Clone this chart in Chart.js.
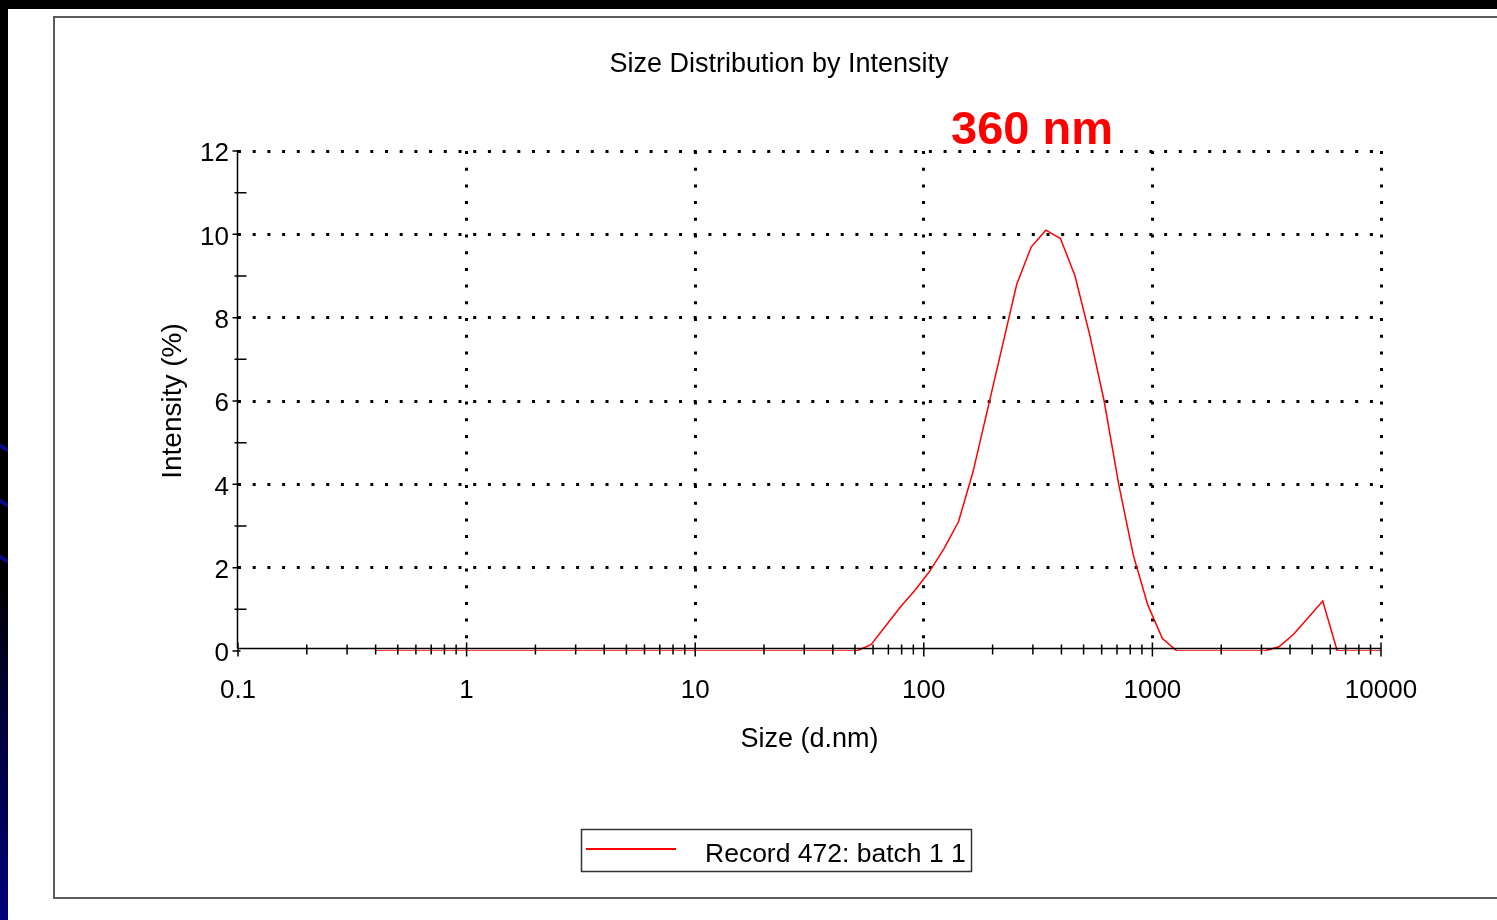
<!DOCTYPE html>
<html>
<head>
<meta charset="utf-8">
<title>Size Distribution by Intensity</title>
<script src="https://cdn.jsdelivr.net/npm/chart.js@4.4.1/dist/chart.umd.min.js"></script>
<style>
  html, body { margin: 0; padding: 0; background: #000; overflow: hidden; }
  #page { position: relative; width: 1497px; height: 920px; }
  #sheet { position: absolute; left: 8px; top: 9px; right: 0; bottom: 0; background: #fff; }
  #strip { position: absolute; left: 0; top: 0; width: 8px; height: 920px; overflow: hidden;
           background: linear-gradient(to bottom, #000 0%, #000 63%, #000034 76%, #00007a 100%); }
  .streak { position: absolute; left: -3px; width: 14px; height: 4px; background: #0a0a86;
            transform: rotate(28deg); filter: blur(0.6px); }
  #frame { position: absolute; left: 53px; top: 16px; width: 1460px; height: 883px;
           border: 2px solid #5c5c5c; box-sizing: border-box; }
  #chart { position: absolute; left: 0; top: 0; }
</style>
</head>
<body>
<div id="page">
  <div id="sheet"></div>
  <div id="strip">
    <div class="streak" style="top:446px"></div>
    <div class="streak" style="top:501px"></div>
    <div class="streak" style="top:557px"></div>
  </div>
  <div id="frame"></div>
  <canvas id="chart" width="1497" height="920"></canvas>
</div>
<script>
// Particle size classes (d.nm) of the size distribution
const sizes = [
  0.4000, 0.4632, 0.5365, 0.6213, 0.7195, 0.8332, 0.9649, 1.117, 1.294, 1.499,
  1.736, 2.010, 2.328, 2.696, 3.122, 3.615, 4.187, 4.849, 5.615, 6.503,
  7.531, 8.721, 10.10, 11.70, 13.54, 15.69, 18.17, 21.04, 24.36, 28.21,
  32.67, 37.84, 43.82, 50.75, 58.77, 68.06, 78.82, 91.28, 105.7, 122.4,
  141.8, 164.2, 190.1, 220.2, 255.0, 295.3, 342.0, 396.1, 458.7, 531.2,
  615.1, 712.4, 825.0, 955.4, 1106, 1281, 1484, 1718, 1990, 2305,
  2669, 3091, 3580, 4145, 4801, 5560, 6439, 7456, 8635, 10000
];

// Intensity (%) in each size class
const intensity = [
  0, 0, 0, 0, 0, 0, 0, 0, 0, 0,
  0, 0, 0, 0, 0, 0, 0, 0, 0, 0,
  0, 0, 0, 0, 0, 0, 0, 0, 0, 0,
  0, 0, 0, 0, 0.15, 0.6, 1.05, 1.45, 1.9, 2.45,
  3.1, 4.3, 5.8, 7.3, 8.8, 9.7, 10.1, 9.9, 9.0, 7.6,
  6.0, 4.0, 2.3, 1.1, 0.3, 0, 0, 0, 0, 0,
  0, 0, 0.1, 0.4, 0.8, 1.2, 0, 0, 0, 0
];

const seriesName = 'Record 472: batch 1 1';
const chartTitle = 'Size Distribution by Intensity';
const peakNote = '360 nm';

const xTickValues = [0.1, 1, 10, 100, 1000, 10000];
const xTickLabels = ['0.1', '1', '10', '100', '1000', '10000'];
const yTickValues = [0, 2, 4, 6, 8, 10, 12];
const yTickLabels = ['0', '2', '4', '6', '8', '10', '12'];

const FONT = "'Liberation Sans', Arial, Helvetica, sans-serif";
const INK = '#000';
const CLEAR = 'rgba(0,0,0,0)';

// Solid axes with crossing minor ticks, drawn over the dotted grid
const axesPlugin = {
  id: 'axesWithTicks',
  afterDatasetsDraw(chart) {
    const { ctx } = chart;
    const xs = chart.scales.x, ys = chart.scales.y;
    const axisY = ys.getPixelForValue(0) - 2.5;
    const axisX = xs.left - 0.5;
    ctx.save();
    ctx.strokeStyle = '#000';
    ctx.lineWidth = 1.5;
    ctx.beginPath();
    ctx.moveTo(xs.left, axisY); ctx.lineTo(xs.right, axisY);
    ctx.moveTo(axisX, ys.top - 1); ctx.lineTo(axisX, axisY);
    // x ticks: decades long, 2..9 short
    for (let d = 0; d < xTickValues.length; d++) {
      const dec = xTickValues[d];
      const px = xs.getPixelForValue(dec);
      ctx.moveTo(px, axisY - 6); ctx.lineTo(px, axisY + 8);
      if (d < xTickValues.length - 1) {
        for (let m = 2; m <= 9; m++) {
          const p = xs.getPixelForValue(dec * m);
          ctx.moveTo(p, axisY - 4); ctx.lineTo(p, axisY + 6);
        }
      }
    }
    // y ticks: labelled values short, odd values longer to the right
    for (let v = ys.min; v <= ys.max; v++) {
      const py = ys.getPixelForValue(v);
      if (v % 2 === 0) { ctx.moveTo(axisX - 5, py); ctx.lineTo(axisX + 3, py); }
      else { ctx.moveTo(axisX - 3, py); ctx.lineTo(axisX + 9, py); }
    }
    ctx.stroke();
    ctx.restore();
  },
  afterDraw(chart) {
    const { ctx } = chart;
    const ds = chart.data.datasets[0];
    ctx.save();
    // Chart heading
    ctx.fillStyle = INK;
    ctx.font = `27px ${FONT}`;
    ctx.textAlign = 'center';
    ctx.textBaseline = 'middle';
    ctx.fillText(chartTitle, 779, 65);
    // Peak annotation
    ctx.fillStyle = '#ff0000';
    ctx.font = `bold 47px ${FONT}`;
    ctx.fillText(peakNote, 1032, 131);
    // Legend box
    ctx.strokeStyle = '#333';
    ctx.lineWidth = 1.5;
    ctx.strokeRect(581.5, 829.5, 390, 42);
    ctx.strokeStyle = ds.borderColor;
    ctx.lineWidth = 2;
    ctx.beginPath();
    ctx.moveTo(586, 849); ctx.lineTo(676, 849);
    ctx.stroke();
    ctx.fillStyle = INK;
    ctx.font = `26.5px ${FONT}`;
    ctx.textAlign = 'left';
    ctx.fillText(ds.label, 705, 855);
    ctx.restore();
  }
};

new Chart(document.getElementById('chart'), {
  type: 'line',
  data: {
    datasets: [{
      label: seriesName,
      data: sizes.map((s, i) => ({ x: s, y: intensity[i] })),
      borderColor: '#ff0000',
      borderWidth: 1.5,
      pointRadius: 0,
      tension: 0,
      fill: false
    }]
  },
  options: {
    responsive: false,
    animation: false,
    devicePixelRatio: 1,
    layout: { padding: { left: 140, top: 151, right: 116, bottom: 159 } },
    plugins: {
      legend: { display: false },
      title: { display: false },
      tooltip: { enabled: false }
    },
    scales: {
      x: {
        type: 'logarithmic',
        min: 0.1,
        max: 10000,
        afterBuildTicks: s => { s.ticks = xTickValues.map(v => ({ value: v })); },
        afterFit: s => { s.height = 110; },
        ticks: {
          autoSkip: false,
          maxRotation: 0,
          padding: 24,
          color: INK,
          font: { family: FONT, size: 26 },
          callback: (v, i) => xTickLabels[i]
        },
        grid: {
          color: c => (c.index === 0 ? CLEAR : '#000'),
          lineWidth: 3,
          drawTicks: false
        },
        border: { display: false, dash: [3, 13.7] },
        title: {
          display: true,
          text: 'Size (d.nm)',
          color: INK,
          font: { family: FONT, size: 27 },
          padding: { top: 0, bottom: 5 }
        }
      },
      y: {
        min: 0,
        max: 12,
        afterBuildTicks: s => { s.ticks = yTickValues.map(v => ({ value: v })); },
        afterFit: s => { s.width = 98; },
        ticks: {
          padding: 9,
          labelOffset: 3,
          color: INK,
          font: { family: FONT, size: 26 },
          callback: (v, i) => yTickLabels[i]
        },
        grid: {
          color: c => (c.tick && c.tick.value === 0 ? CLEAR : '#000'),
          lineWidth: 3,
          drawTicks: false
        },
        border: { display: false, dash: [3, 11.7] },
        title: {
          display: true,
          text: 'Intensity (%)',
          color: INK,
          font: { family: FONT, size: 28 },
          padding: { top: 16, bottom: 0 }
        }
      }
    }
  },
  plugins: [axesPlugin]
});
</script>
</body>
</html>
